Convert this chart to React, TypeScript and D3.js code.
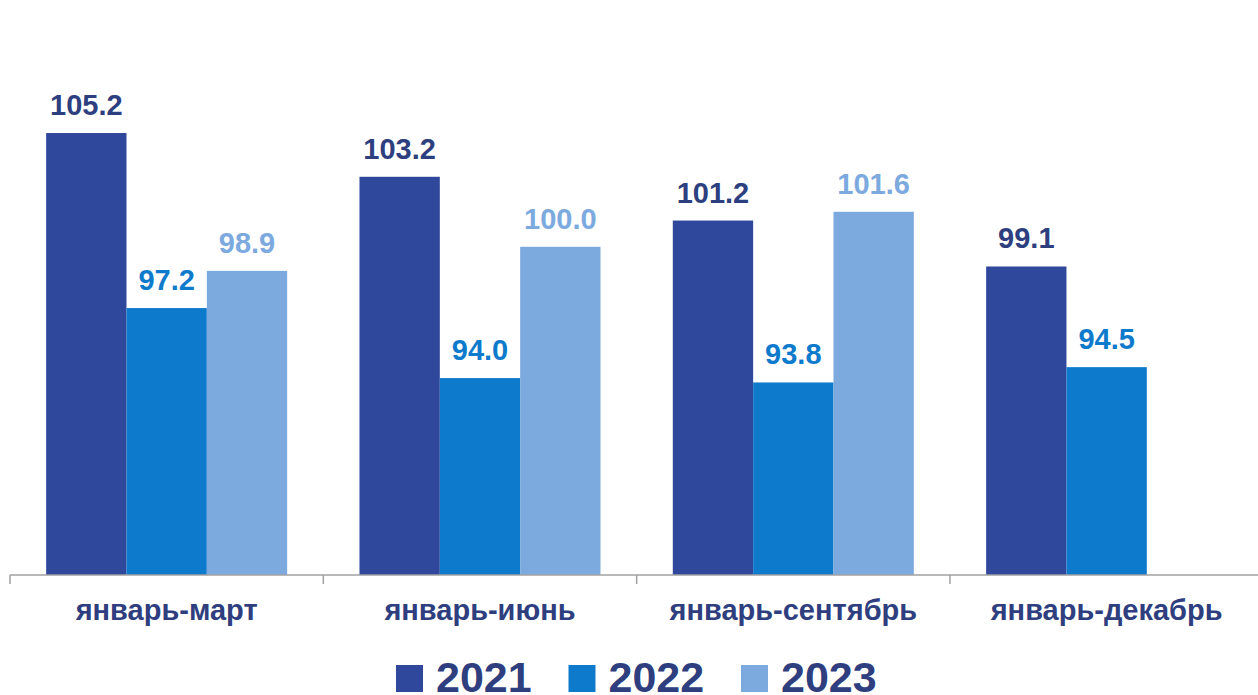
import { useMemo } from "react";
import * as d3 from "d3";

const categories = ["январь-март", "январь-июнь", "январь-сентябрь", "январь-декабрь"];
const seriesNames = ["2021", "2022", "2023"];
const values2021 = [105.2, 103.2, 101.2, 99.1];
const values2022 = [97.2, 94.0, 93.8, 94.5];
const values2023: (number | null)[] = [98.9, 100.0, 101.6, null];

const barColors = ["#30489b", "#0e7acc", "#7caadf"];
const labelColors = ["#2e3f80", "#0e7acc", "#7caadf"];
const textColor = "#2e3e7e";
const font = "'Liberation Sans', Arial, sans-serif";

const width = 1258;
const height = 695;

export default function App(): JSX.Element {
  const series = [values2021, values2022, values2023];

  const x = useMemo(() => d3.scaleBand<string>().domain(categories).range([10, 1263.3]).padding(0), []);
  const xInner = useMemo(
    () =>
      d3
        .scaleBand<string>()
        .domain(seriesNames)
        .range([0, x.bandwidth()])
        .paddingInner(0)
        .paddingOuter(0.45),
    [x]
  );
  const y = useMemo(() => d3.scaleLinear().domain([85, 110]).range([575, 28]), []);
  const baseline = y(85);

  const tickXs = categories.map((c) => x(c) ?? 0).concat([x.range()[1]]);

  return (
    <svg
      width={width}
      height={height}
      viewBox={`0 0 ${width} ${height}`}
      style={{ position: "absolute", left: 0, top: 0, display: "block", background: "#fff" }}
      fontFamily={font}
    >
      {categories.map((cat, ci) => (
        <g key={cat} transform={`translate(${x(cat)},0)`}>
          {seriesNames.map((name, si) => {
            const v = series[si][ci];
            if (v == null) return null;
            const bx = xInner(name) ?? 0;
            const bw = xInner.bandwidth();
            return (
              <g key={name}>
                <rect x={bx} y={y(v)} width={bw} height={baseline - y(v)} fill={barColors[si]} />
                <text
                  x={bx + bw / 2}
                  y={y(v) - 18}
                  textAnchor="middle"
                  fontSize={29}
                  fontWeight="bold"
                  fill={labelColors[si]}
                >
                  {v.toFixed(1)}
                </text>
              </g>
            );
          })}
          <text
            x={x.bandwidth() / 2}
            y={620}
            textAnchor="middle"
            fontSize={29}
            fontWeight="bold"
            fill={textColor}
          >
            {cat}
          </text>
        </g>
      ))}

      <line x1={10} x2={width} y1={baseline} y2={baseline} stroke="#a0a0a0" strokeWidth={1.5} />
      {tickXs.map((tx, i) => (
        <line key={i} x1={tx} x2={tx} y1={baseline} y2={baseline + 9} stroke="#a0a0a0" strokeWidth={1.5} />
      ))}

      {seriesNames.map((name, i) => {
        const lx = 396 + i * 172.5;
        return (
          <g key={name}>
            <rect x={lx} y={665} width={27} height={27} fill={barColors[i]} />
            <text x={lx + 40} y={692} fontSize={43} fontWeight="bold" fill={textColor}>
              {name}
            </text>
          </g>
        );
      })}
    </svg>
  );
}
